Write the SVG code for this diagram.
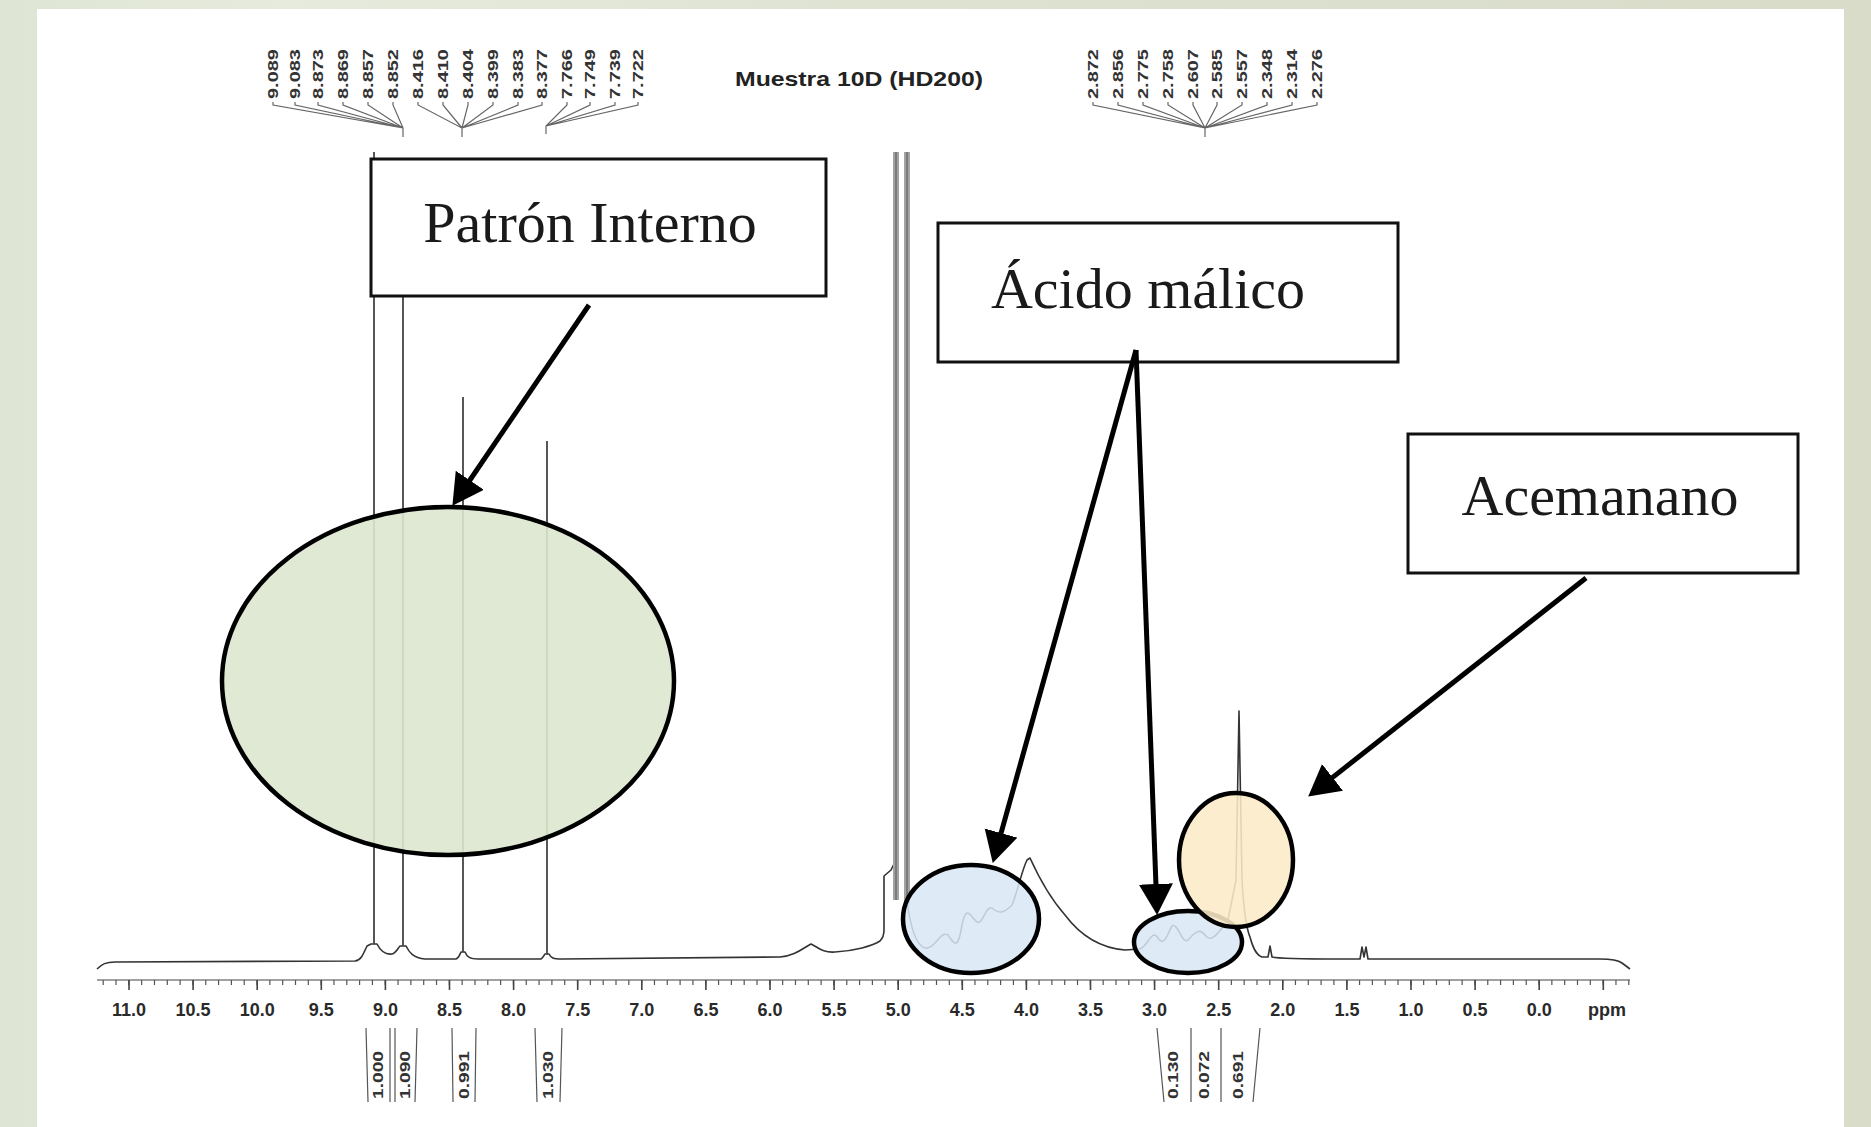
<svg xmlns="http://www.w3.org/2000/svg" width="1871" height="1127" viewBox="0 0 1871 1127">
<defs>
<linearGradient id="bg" x1="0" y1="0" x2="1" y2="0">
<stop offset="0" stop-color="#dfe5d4"/>
<stop offset="0.15" stop-color="#e6ebdd"/>
<stop offset="0.5" stop-color="#dde2d1"/>
<stop offset="1" stop-color="#d9dcc9"/>
</linearGradient>
<marker id="ah" markerUnits="userSpaceOnUse" markerWidth="32" markerHeight="36" refX="10" refY="17" orient="auto">
<path d="M0,0 L31,17 L0,34 Z" fill="#000"/>
</marker>
<style>
.box{fill:#fff;stroke:#111;stroke-width:3}
.lbl{font-family:"Liberation Serif","Times New Roman",serif;font-size:58px;fill:#1a1a1a;text-anchor:middle}
.arrow{stroke:#000;stroke-width:5;fill:none;marker-end:url(#ah)}
.spec{fill:none;stroke:#333;stroke-width:1.6;stroke-linejoin:round}
.peak{stroke:#444;stroke-width:1.8}
.num{font-family:"Liberation Sans",Arial,sans-serif;font-weight:bold;font-size:14px;fill:#333}
.tick{font-family:"Liberation Sans",Arial,sans-serif;font-weight:bold;font-size:18px;fill:#2a2a2a;text-anchor:middle}
.fan{fill:none;stroke:#666;stroke-width:1.2}
.intg{stroke:#555;stroke-width:1.2}
.ell{stroke:#000;stroke-width:4.5}
</style>
</defs>
<rect x="0" y="0" width="1871" height="1127" fill="url(#bg)"/>
<rect x="37" y="9" width="1807" height="1118" fill="#fff"/>

<g id="spectrum">
<line x1="97" y1="980" x2="1630" y2="980" stroke="#444" stroke-width="1.2"/>
<line x1="102.6" y1="982.5" x2="1630" y2="982.5" stroke="#555" stroke-width="5" stroke-dasharray="1.2 11.62"/>
<line x1="128.2" y1="985" x2="1630" y2="985" stroke="#444" stroke-width="10" stroke-dasharray="1.6 62.5"/>
<g class="tick">
<text x="129" y="1016">11.0</text><text x="193.1" y="1016">10.5</text><text x="257.2" y="1016">10.0</text>
<text x="321.3" y="1016">9.5</text><text x="385.4" y="1016">9.0</text><text x="449.5" y="1016">8.5</text>
<text x="513.6" y="1016">8.0</text><text x="577.7" y="1016">7.5</text><text x="641.8" y="1016">7.0</text>
<text x="705.9" y="1016">6.5</text><text x="770" y="1016">6.0</text><text x="834.1" y="1016">5.5</text>
<text x="898.2" y="1016">5.0</text><text x="962.3" y="1016">4.5</text><text x="1026.4" y="1016">4.0</text>
<text x="1090.5" y="1016">3.5</text><text x="1154.6" y="1016">3.0</text><text x="1218.7" y="1016">2.5</text>
<text x="1282.8" y="1016">2.0</text><text x="1346.9" y="1016">1.5</text><text x="1411" y="1016">1.0</text>
<text x="1475.1" y="1016">0.5</text><text x="1539.2" y="1016">0.0</text><text x="1607" y="1016">ppm</text>
</g>
<path class="spec" d="M97,969 C102,964 106,962 115,962 L355,961 C362,960 364,952 367,946 L371,944 L377,944 C380,950 384,955 392,954 C396,953 398,948 400,946 L406,946 C409,952 413,958 425,959 L456,959 C459,958 460,954 461,952 L465,952 C467,957 470,959 478,959 L541,959 C543,958 544,955 545,954 L549,954 C551,958 553,959 562,959 L780,957 C795,956 803,948 811,944 C818,947 822,953 835,952 C855,951 872,946 880,941 C883,938 884,935 884,930 L884,876 L891,870 L895,862"/>
<path class="spec" d="M907,900 C910,925 915,945 925,948 C935,950 940,930 948,935 C955,945 958,950 962,925 C966,905 970,915 975,920 C982,930 985,905 992,908 C1000,915 1005,912 1012,905 C1018,890 1022,870 1027,860 L1030,858 C1040,880 1050,898 1065,915 C1080,935 1100,948 1125,950 L1140,949 C1148,946 1152,928 1158,938 C1165,948 1168,932 1172,926 C1178,922 1182,945 1188,940 C1195,932 1200,928 1205,935 C1212,945 1220,930 1228,920 L1236,880 L1239,711 L1242,880 C1244,915 1247,930 1250,937 C1253,948 1256,955 1262,957 L1268,957 L1270,946 L1272,957 C1280,959 1300,959 1340,959 L1360,959 L1362,947 L1364,957 L1366,947 L1368,959 L1600,959 C1612,959 1618,960 1622,963 L1630,969"/>
<line class="peak" x1="374" y1="152" x2="374" y2="944"/>
<line class="peak" x1="403" y1="200" x2="403" y2="946"/>
<line class="peak" x1="463" y1="397" x2="463" y2="952"/>
<line class="peak" x1="547" y1="441" x2="547" y2="954"/>
<line x1="896" y1="152" x2="896" y2="900" stroke="#a3a3a3" stroke-width="6"/>
<line x1="907" y1="152" x2="907" y2="905" stroke="#a3a3a3" stroke-width="6"/>
<line x1="896" y1="152" x2="896" y2="900" stroke="#6a6a6a" stroke-width="1.4"/>
<line x1="907" y1="152" x2="907" y2="905" stroke="#6a6a6a" stroke-width="1.4"/>
<g class="num">
<text transform="translate(278,99) rotate(-90)" textLength="50" lengthAdjust="spacingAndGlyphs">9.089</text>
<text transform="translate(300,99) rotate(-90)" textLength="50" lengthAdjust="spacingAndGlyphs">9.083</text>
<text transform="translate(323,99) rotate(-90)" textLength="50" lengthAdjust="spacingAndGlyphs">8.873</text>
<text transform="translate(348,99) rotate(-90)" textLength="50" lengthAdjust="spacingAndGlyphs">8.869</text>
<text transform="translate(373,99) rotate(-90)" textLength="50" lengthAdjust="spacingAndGlyphs">8.857</text>
<text transform="translate(398,99) rotate(-90)" textLength="50" lengthAdjust="spacingAndGlyphs">8.852</text>
<text transform="translate(423,99) rotate(-90)" textLength="50" lengthAdjust="spacingAndGlyphs">8.416</text>
<text transform="translate(448,99) rotate(-90)" textLength="50" lengthAdjust="spacingAndGlyphs">8.410</text>
<text transform="translate(473,99) rotate(-90)" textLength="50" lengthAdjust="spacingAndGlyphs">8.404</text>
<text transform="translate(498,99) rotate(-90)" textLength="50" lengthAdjust="spacingAndGlyphs">8.399</text>
<text transform="translate(523,99) rotate(-90)" textLength="50" lengthAdjust="spacingAndGlyphs">8.383</text>
<text transform="translate(547,99) rotate(-90)" textLength="50" lengthAdjust="spacingAndGlyphs">8.377</text>
<text transform="translate(572,99) rotate(-90)" textLength="50" lengthAdjust="spacingAndGlyphs">7.766</text>
<text transform="translate(595,99) rotate(-90)" textLength="50" lengthAdjust="spacingAndGlyphs">7.749</text>
<text transform="translate(620,99) rotate(-90)" textLength="50" lengthAdjust="spacingAndGlyphs">7.739</text>
<text transform="translate(643,99) rotate(-90)" textLength="50" lengthAdjust="spacingAndGlyphs">7.722</text>
<text transform="translate(1098,99) rotate(-90)" textLength="50" lengthAdjust="spacingAndGlyphs">2.872</text>
<text transform="translate(1123,99) rotate(-90)" textLength="50" lengthAdjust="spacingAndGlyphs">2.856</text>
<text transform="translate(1148,99) rotate(-90)" textLength="50" lengthAdjust="spacingAndGlyphs">2.775</text>
<text transform="translate(1173,99) rotate(-90)" textLength="50" lengthAdjust="spacingAndGlyphs">2.758</text>
<text transform="translate(1198,99) rotate(-90)" textLength="50" lengthAdjust="spacingAndGlyphs">2.607</text>
<text transform="translate(1222,99) rotate(-90)" textLength="50" lengthAdjust="spacingAndGlyphs">2.585</text>
<text transform="translate(1247,99) rotate(-90)" textLength="50" lengthAdjust="spacingAndGlyphs">2.557</text>
<text transform="translate(1272,99) rotate(-90)" textLength="50" lengthAdjust="spacingAndGlyphs">2.348</text>
<text transform="translate(1297,99) rotate(-90)" textLength="50" lengthAdjust="spacingAndGlyphs">2.314</text>
<text transform="translate(1322,99) rotate(-90)" textLength="50" lengthAdjust="spacingAndGlyphs">2.276</text>
</g>
<path class="fan" d="M273,102 V105 L403,128 V137 M295,102 V105 L403,128 M318,102 V105 L403,128 M343,102 V105 L403,128 M368,102 V105 L403,128 M393,102 V105 L403,128 M418,102 V105 L462,128 V137 M443,102 V105 L462,128 M468,102 V105 L462,128 M493,102 V105 L462,128 M518,102 V105 L462,128 M542,102 V105 L462,128 M567,102 V105 L546,126 V134 M590,102 V105 L546,126 M615,102 V105 L546,126 M638,102 V105 L546,126"/>
<path class="fan" d="M1093,102 V105 L1205,128 V137 M1118,102 V105 L1205,128 M1143,102 V105 L1205,128 M1168,102 V105 L1205,128 M1193,102 V105 L1205,128 M1217,102 V105 L1205,128 M1242,102 V105 L1205,128 M1267,102 V105 L1205,128 M1292,102 V105 L1205,128 M1317,102 V105 L1205,128"/>
<text x="859" y="86" font-family="'Liberation Sans',Arial,sans-serif" font-weight="bold" font-size="21" fill="#222" text-anchor="middle" textLength="248" lengthAdjust="spacingAndGlyphs">Muestra 10D (HD200)</text>
<path class="intg" d="M366,1028 L368,1102 M390,1028 L390,1102 M395,1028 L395,1102 M417,1028 L415,1102 M452,1028 L453,1102 M476,1028 L475,1102 M535,1028 L537,1102 M562,1028 L560,1102 M1157,1028 L1164,1102 M1191,1028 L1191,1102 M1221,1028 L1221,1102 M1260,1028 L1253,1102"/>
<g class="num">
<text transform="translate(383,1099) rotate(-90)" textLength="48" lengthAdjust="spacingAndGlyphs">1.000</text>
<text transform="translate(410,1099) rotate(-90)" textLength="48" lengthAdjust="spacingAndGlyphs">1.090</text>
<text transform="translate(469,1099) rotate(-90)" textLength="48" lengthAdjust="spacingAndGlyphs">0.991</text>
<text transform="translate(553,1099) rotate(-90)" textLength="48" lengthAdjust="spacingAndGlyphs">1.030</text>
<text transform="translate(1178,1099) rotate(-90)" textLength="48" lengthAdjust="spacingAndGlyphs">0.130</text>
<text transform="translate(1209,1099) rotate(-90)" textLength="48" lengthAdjust="spacingAndGlyphs">0.072</text>
<text transform="translate(1243,1099) rotate(-90)" textLength="48" lengthAdjust="spacingAndGlyphs">0.691</text>
</g>
</g>

<g id="ellipse-patron"><ellipse class="ell" cx="448" cy="681" rx="226" ry="174" fill="#dbe7cf" fill-opacity="0.9"/></g>
<g id="ellipse-acido-1"><ellipse class="ell" cx="971" cy="919" rx="68" ry="54" fill="#d8e6f3" fill-opacity="0.85"/></g>
<g id="ellipse-acido-2"><ellipse class="ell" cx="1188" cy="942" rx="54" ry="31" fill="#d8e6f3" fill-opacity="0.85"/></g>
<g id="ellipse-acemanano"><ellipse class="ell" cx="1236" cy="860" rx="57" ry="67" fill="#fdebc8" fill-opacity="0.88"/></g>

<g id="box-patron"><rect class="box" x="371" y="159" width="455" height="137"/><text class="lbl" x="590" y="242">Patrón Interno</text></g>
<g id="box-acido"><rect class="box" x="938" y="223" width="460" height="139"/><text class="lbl" x="1148" y="308">Ácido málico</text></g>
<g id="box-acemanano"><rect class="box" x="1408" y="434" width="390" height="139"/><text class="lbl" x="1600" y="515">Acemanano</text></g>

<g id="connectors">
<line class="arrow" x1="589" y1="305" x2="464.2" y2="488.5"/>
<line class="arrow" x1="1136" y1="350" x2="998.4" y2="842.7"/>
<line class="arrow" x1="1136" y1="350" x2="1156.3" y2="894"/>
<line class="arrow" x1="1586" y1="578" x2="1324.7" y2="783.6"/>
</g>
</svg>
